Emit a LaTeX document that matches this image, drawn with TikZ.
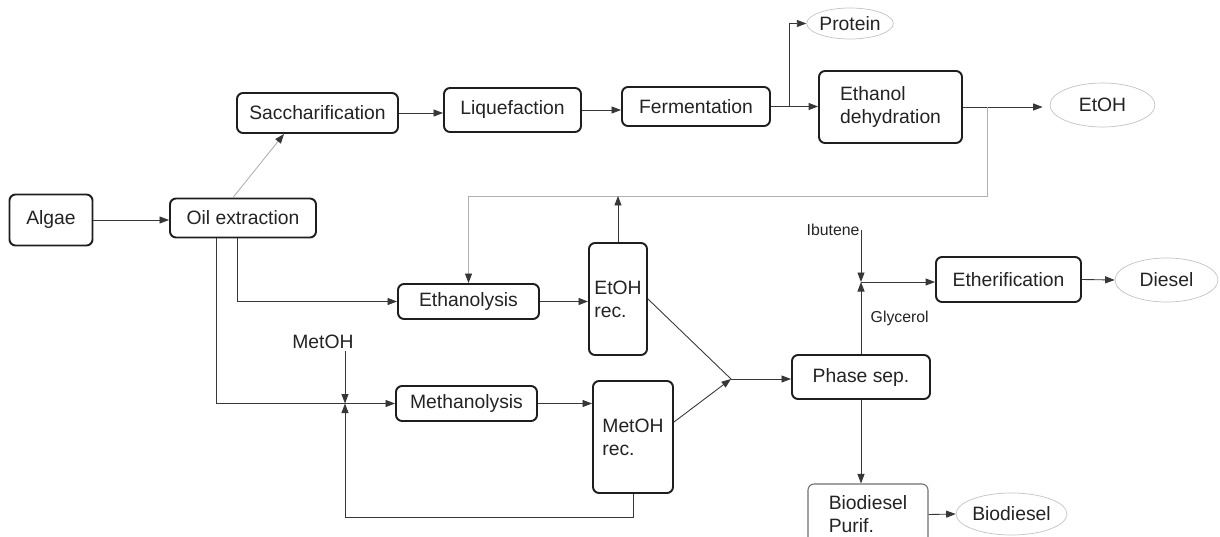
\documentclass[tikz,border=0pt]{standalone}
\usepackage{fontspec}
\setmainfont{Liberation Sans}
\usepackage{xcolor}
\usetikzlibrary{arrows.meta,positioning,shapes.geometric}
\definecolor{boxline}{RGB}{30,30,30}
\definecolor{txt}{RGB}{35,35,35}
\definecolor{wire}{RGB}{55,55,55}
\definecolor{recline}{RGB}{175,175,175}
\definecolor{ovalline}{RGB}{195,195,195}
\definecolor{purline}{RGB}{110,110,110}

\begin{document}
\begin{tikzpicture}[x=0.02cm, y=-0.02cm, font=\fontsize{11}{13}\selectfont,
    unit/.style={draw=boxline, line width=1.1pt, rounded corners=0.12cm,
                 align=center, inner sep=2pt, text=txt},
    product/.style={draw=ovalline, line width=0.4pt, ellipse, inner sep=0pt, text=txt},
    flow/.style={-{Triangle[length=1.9mm, width=1.4mm, color=wire]}, draw=wire, line width=0.5pt},
    link/.style={draw=wire, line width=0.5pt},
    recycle/.style={flow, draw=recline},
    feed/.style={inner sep=1pt, text=txt},
    lbl/.style={feed, font=\fontsize{9}{11}\selectfont}]

    \useasboundingbox (0,0) rectangle (1220,537);
    \clip (0,0) rectangle (1220,537);

    % process units
    \node[unit, minimum width=1.66cm, minimum height=1.02cm] (algae) at (51,220) {Algae};
    \node[unit, minimum width=2.92cm, minimum height=0.78cm] (oil) at (243,218) {Oil extraction};
    \node[unit, minimum width=3.22cm, minimum height=0.8cm] (sacch) at (317.5,113) {Saccharification};
    \node[unit, minimum width=2.74cm, minimum height=0.88cm] (liq) at (512.5,110) {Liquefaction};
    \node[unit, minimum width=2.96cm, minimum height=0.78cm] (ferm) at (696,106.5) {Fermentation};
    \node[unit, align=left, minimum width=2.86cm, minimum height=1.44cm] (dehyd) at (890.5,107) {Ethanol\\dehydration};
    \node[unit, minimum width=2.82cm, minimum height=0.7cm] (ethanolysis) at (468.5,301.5) {Ethanolysis};
    \node[unit, align=left, minimum width=1.16cm, minimum height=2.24cm] (etohrec) at (618,299) {EtOH\\rec.};
    \node[unit, minimum width=2.82cm, minimum height=0.7cm] (methanolysis) at (466.5,403.5) {Methanolysis};
    \node[unit, align=left, minimum width=1.6cm, minimum height=2.24cm] (metohrec) at (633,437) {MetOH\\rec.};
    \node[unit, minimum width=2.76cm, minimum height=0.88cm] (phase) at (861,377) {Phase sep.};
    \node[unit, minimum width=2.9cm, minimum height=0.9cm] (ether) at (1008.5,279.5) {Etherification};
    \node[unit, draw=purline, line width=0.6pt, align=left, minimum width=2.4cm,
          minimum height=1.22cm] (purif) at (868,514.5) {Biodiesel\\Purif.};

    % products
    \node[product, minimum width=1.52cm, minimum height=0.62cm] (protein) at (850,23.5) {Protein};
    \node[product, minimum width=2.1cm, minimum height=0.88cm] (etoh) at (1102.5,105) {EtOH};
    \node[product, minimum width=2.06cm, minimum height=0.88cm] (diesel) at (1166.5,280) {Diesel};
    \node[product, minimum width=2.06cm, minimum height=0.84cm] (biodiesel) at (1011.5,514) {Biodiesel};

    % feeds
    \node[feed] (metohin) at (323,342) {MetOH};
    \node[lbl] (ibutene) at (833,230) {Ibutene};

    \coordinate (fork) at ([xshift=0.36cm]ferm.east);
    \coordinate (tap) at ([xshift=0.48cm]dehyd.east);
    \coordinate (ret) at ([yshift=-1.78cm]tap);
    \coordinate (mix) at (345,403.5);
    \coordinate (merge) at (731,379);
    \coordinate (ibmix) at (861,282);

    \draw[flow] (algae.east) -- (algae.east -| oil.west);
    \draw[recycle] ([xshift=-0.2cm]oil.north) -- ([xshift=-0.67cm]sacch.south);
    \draw[flow] (sacch.east) -- (sacch.east -| liq.west);
    \draw[flow] (liq.east) -- (liq.east -| ferm.west);
    \draw[flow] (ferm.east) -- (ferm.east -| dehyd.west);
    \draw[flow] (fork) |- (protein.west);
    \draw[flow, shorten >=0.14cm] (dehyd.east) -- (dehyd.east -| etoh.west);
    \draw[recycle] (tap) -- (ret) -| (ethanolysis.north);
    \draw[flow] (etohrec.north) -- (etohrec.north |- ret);
    \draw[flow] ([xshift=-0.12cm]oil.south) |- (ethanolysis.west);
    \draw[flow] ([xshift=-0.54cm]oil.south) |- (methanolysis.west);
    \draw[flow] (metohin.south -| mix) -- (mix);
    \draw[flow] (metohrec.south) -- ++(0,23) -| (mix);
    \draw[flow] (ethanolysis.east) -- (ethanolysis.east -| etohrec.west);
    \draw[flow] (methanolysis.east) -- (methanolysis.east -| metohrec.west);
    \draw[link] (etohrec.east) -- (merge);
    \draw[flow] ([yshift=0.3cm]metohrec.east) -- (merge);
    \draw[flow] (merge) -- (merge -| phase.west);
    \draw[flow] (phase.north) -- node[lbl, right=0.15cm]{Glycerol} (ibmix);
    \draw[flow] (ibutene.east -| ibmix) -- (ibmix);
    \draw[flow] (ibmix) -- (ibmix -| ether.west);
    \draw[flow] (ether.east) -- (diesel.west);
    \draw[flow] (phase.south) -- (phase.south |- purif.north);
    \draw[flow] (purif.east) -- (biodiesel.west);
\end{tikzpicture}
\end{document}
